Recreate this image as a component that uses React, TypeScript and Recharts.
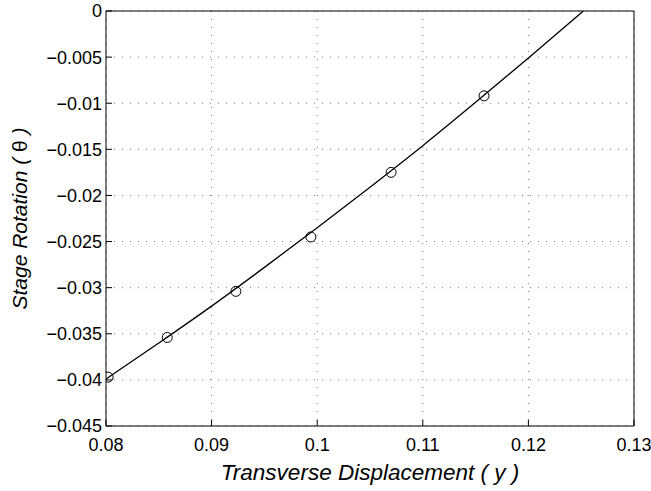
import React from 'react';
import { ComposedChart, Line, Scatter, XAxis, YAxis, CartesianGrid } from 'recharts';

// measured points (circles)
const measX = [0.0802, 0.0858, 0.0923, 0.0994, 0.1070, 0.1158];
const measY = [-0.0397, -0.0354, -0.0304, -0.0245, -0.0175, -0.0092];

// fitted curve
const fitX = [0.080, 0.085, 0.090, 0.095, 0.100, 0.105, 0.110, 0.115, 0.120, 0.1252];
const fitY = [-0.0399, -0.0360, -0.0320, -0.0278, -0.0235, -0.0191, -0.0146, -0.0099, -0.0051, 0];

const xTicks = [0.08, 0.09, 0.1, 0.11, 0.12, 0.13];
const yTicks = [0, -0.005, -0.01, -0.015, -0.02, -0.025, -0.03, -0.035, -0.04, -0.045];

const measData = measX.map((x, i) => ({ x, y: measY[i] }));
const fitData = fitX.map((x, i) => ({ x, y: fitY[i] }));

const FONT = 'Liberation Sans, Arial, Helvetica, sans-serif';

const fmtY = (v: number) => (v === 0 ? '0' : '\u2212' + String(+Math.abs(v).toFixed(3)));
const fmtX = (v: number) => String(+v.toFixed(2));

const Ring = (props: any) => (
  <circle cx={props.cx} cy={props.cy} r={5} fill="none" stroke="#000" strokeWidth={1} />
);

// y label with an upright theta, like the original
const YLabel = (props: any) => {
  const vb = props.viewBox || {};
  const cx = 19;
  const cy = (vb.y ?? 11) + (vb.height ?? 415) / 2;
  return (
    <text
      x={cx}
      y={cy}
      transform={`rotate(-90 ${cx} ${cy})`}
      textAnchor="middle"
      dominantBaseline="central"
      fill="#000"
      fontSize={21}
      fontFamily={FONT}
    >
      <tspan fontStyle="italic">Stage Rotation ( </tspan>
      <tspan>{'\u03b8'}</tspan>
      <tspan fontStyle="italic"> )</tspan>
    </text>
  );
};

const App: React.FC = () => {
  return (
    <div style={{ position: 'absolute', left: 0, top: 0, width: 651, height: 491, background: '#fff' }}>
      <ComposedChart width={651} height={491} margin={{ top: 11, right: 17, bottom: 0, left: 0 }}>
        <CartesianGrid xAxisId="b" yAxisId="l" stroke="#777" strokeDasharray="1 7" />
        <XAxis
          xAxisId="b"
          type="number"
          dataKey="x"
          domain={[0.08, 0.13]}
          ticks={xTicks}
          tickFormatter={fmtX}
          height={65}
          tickSize={-6}
          tickMargin={18}
          stroke="#000"
          tick={{ fill: '#000', fontSize: 18, fontFamily: FONT }}
          allowDataOverflow
          label={{ value: 'Transverse Displacement ( y )', position: 'insideBottom', offset: 11, fill: '#000', fontSize: 22.5, fontStyle: 'italic', fontFamily: FONT }}
        />
        <XAxis
          xAxisId="t"
          orientation="top"
          type="number"
          dataKey="x"
          domain={[0.08, 0.13]}
          ticks={xTicks}
          height={1}
          mirror
          tick={false}
          tickSize={6}
          stroke="#000"
          allowDataOverflow
        />
        <YAxis
          yAxisId="l"
          type="number"
          dataKey="y"
          domain={[-0.045, 0]}
          ticks={yTicks}
          tickFormatter={fmtY}
          width={106}
          tickSize={-6}
          tickMargin={10}
          stroke="#000"
          tick={{ fill: '#000', fontSize: 18, fontFamily: FONT }}
          allowDataOverflow
          label={<YLabel />}
        />
        <YAxis
          yAxisId="r"
          orientation="right"
          type="number"
          dataKey="y"
          domain={[-0.045, 0]}
          ticks={yTicks}
          width={1}
          mirror
          tick={false}
          tickSize={6}
          stroke="#000"
          allowDataOverflow
        />
        <Line
          xAxisId="b"
          yAxisId="l"
          data={fitData}
          dataKey="y"
          type="monotone"
          stroke="#000"
          strokeWidth={1.3}
          dot={false}
          isAnimationActive={false}
        />
        <Scatter
          xAxisId="b"
          yAxisId="l"
          data={measData}
          dataKey="y"
          shape={Ring}
          isAnimationActive={false}
        />
      </ComposedChart>
    </div>
  );
};

export default App;
